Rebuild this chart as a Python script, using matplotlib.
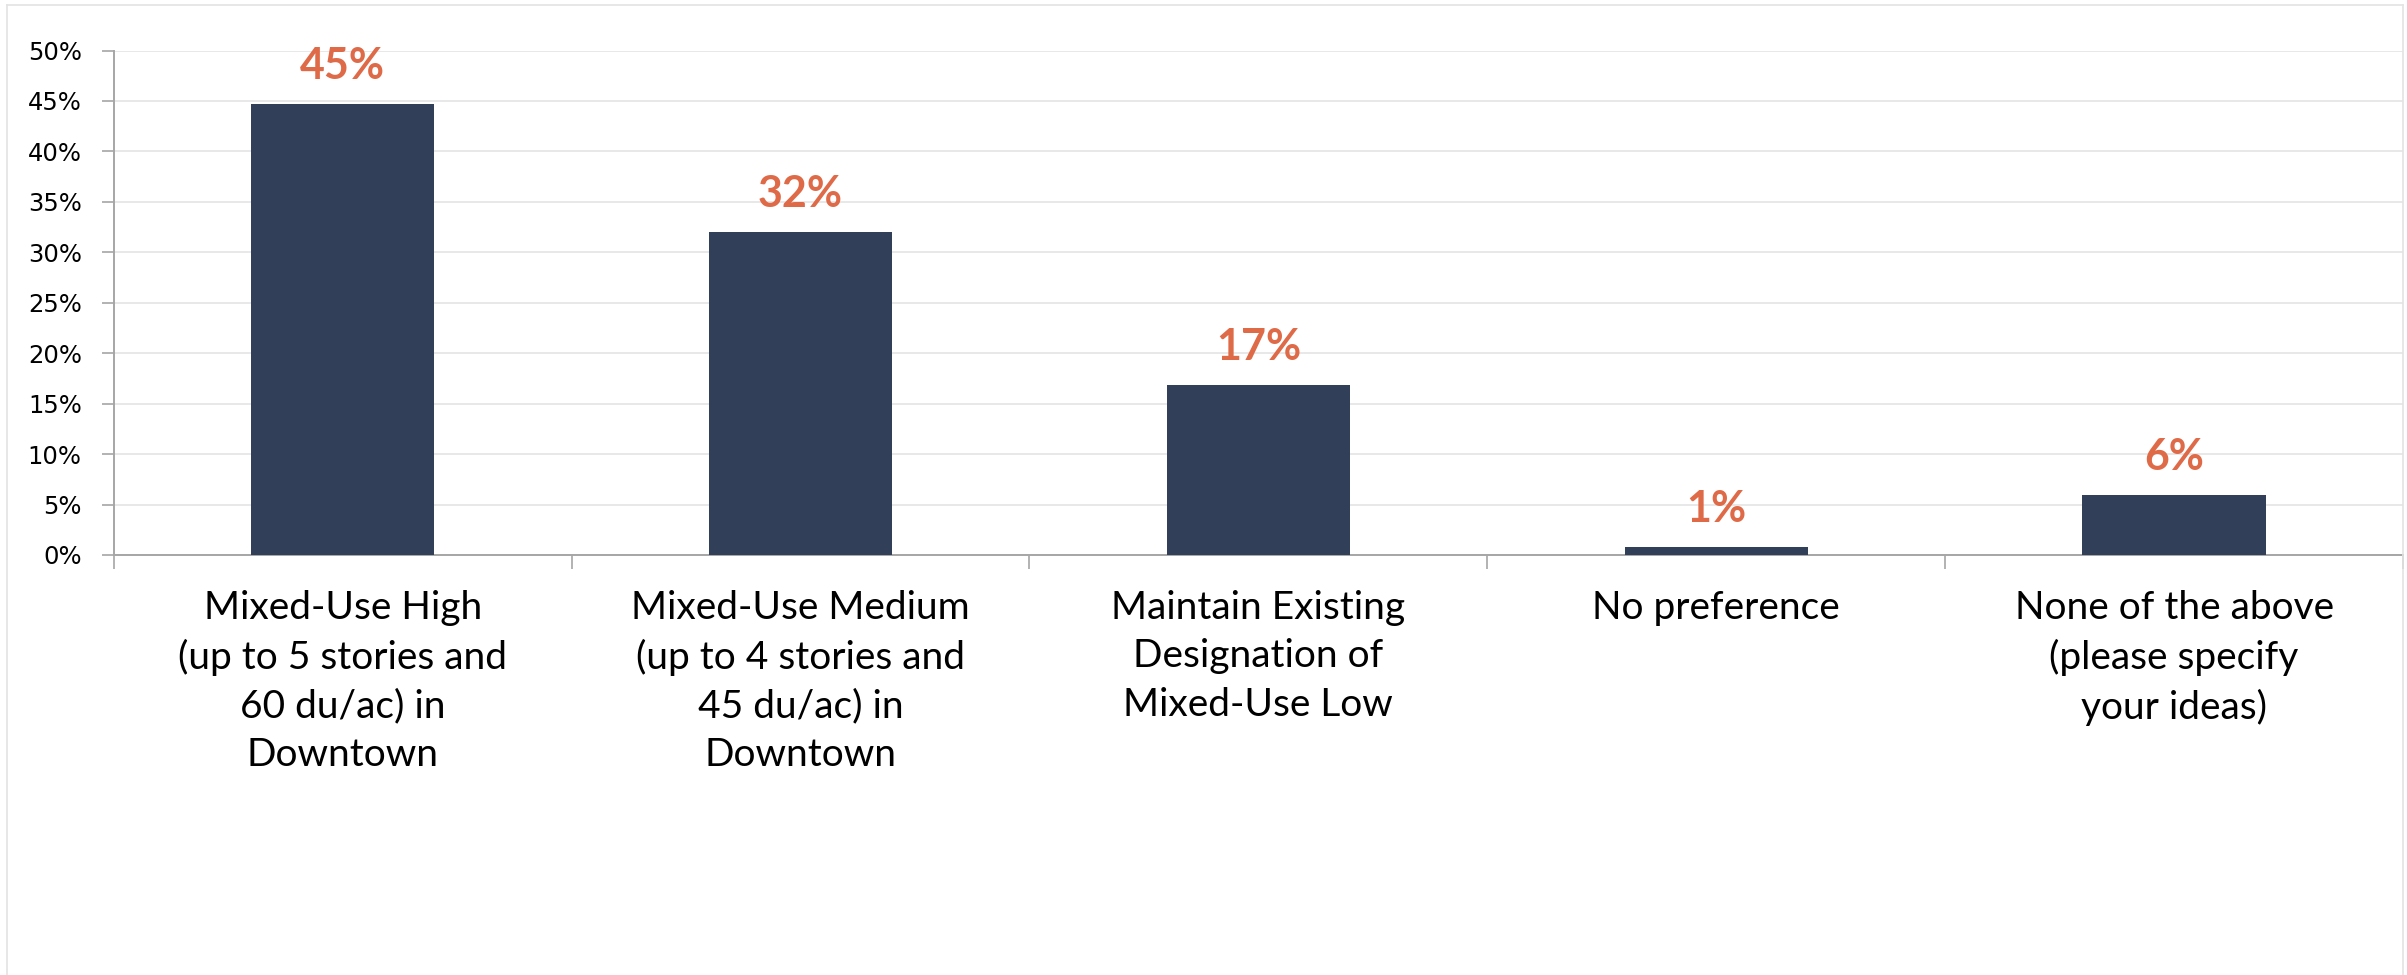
import matplotlib
matplotlib.use("Agg")
import matplotlib.pyplot as plt
from matplotlib.lines import Line2D
from matplotlib.ticker import PercentFormatter

# survey responses (share of respondents)
categories = [
    "Mixed-Use High\n(up to 5 stories and\n60 du/ac) in\nDowntown",
    "Mixed-Use Medium\n(up to 4 stories and\n45 du/ac) in\nDowntown",
    "Maintain Existing\nDesignation of\nMixed-Use Low",
    "No preference",
    "None of the above\n(please specify\nyour ideas)",
]
shares = [0.447, 0.320, 0.168, 0.008, 0.059]
yticks = [0, 0.05, 0.10, 0.15, 0.20, 0.25, 0.30, 0.35, 0.40, 0.45, 0.50]

bar_color = "#323F59"
label_color = "#DF6A47"
axis_color = "#A6A6A6"
grid_color = "#E6E6E6"

W, H = 2407, 975
fig = plt.figure(figsize=(W / 100, H / 100), dpi=100)
ax = fig.add_axes([113.7 / W, 1 - 555 / H, (2403 - 113.7) / W, (555 - 50.5) / H])

x = list(range(len(categories)))
bars = ax.bar(x, shares, width=0.4, color=bar_color, zorder=3)

for b, v in zip(bars, shares):
    ax.annotate("{:.0%}".format(v), (b.get_x() + b.get_width() / 2, v),
                xytext=(0, 13), textcoords="offset points",
                ha="center", va="bottom", fontsize=31, fontweight="bold",
                family="Lato", color=label_color)

ax.set_xlim(-0.5, len(categories) - 0.5)
ax.set_ylim(0, 0.5)
ax.set_yticks(yticks)
ax.yaxis.set_major_formatter(PercentFormatter(1.0, decimals=0))
ax.grid(axis="y", color=grid_color, linewidth=1.3, zorder=0)

# category labels sit between the boundary ticks
ax.set_xticks([i + 0.5 for i in range(-1, len(categories))])
ax.set_xticklabels([])
ax.set_xticks(x, minor=True)
ax.set_xticklabels(categories, minor=True, family="Lato", fontsize=28,
                   linespacing=1.43)
ax.tick_params(axis="x", which="minor", length=0, pad=25)
ax.tick_params(axis="x", which="major", length=10, width=1.2,
               color=axis_color, direction="out")
ax.tick_params(axis="y", length=9, width=1.2, color=axis_color,
               direction="out", pad=14, labelsize=17.5)

for side in ["top", "right"]:
    ax.spines[side].set_visible(False)
for side in ["left", "bottom"]:
    ax.spines[side].set_color(axis_color)
    ax.spines[side].set_linewidth(1.4)

# thin frame around the chart area
frame_kw = dict(color="#E3E3E3", linewidth=1.2, transform=fig.transFigure)
x0, x1, y0 = 7 / W, 2403 / W, 1 - 5 / H
fig.add_artist(Line2D([x0, x1], [y0, y0], **frame_kw))
fig.add_artist(Line2D([x0, x0], [0, y0], **frame_kw))
fig.add_artist(Line2D([x1, x1], [0, y0], **frame_kw))

fig.savefig("out.png", dpi=100, facecolor="white")
